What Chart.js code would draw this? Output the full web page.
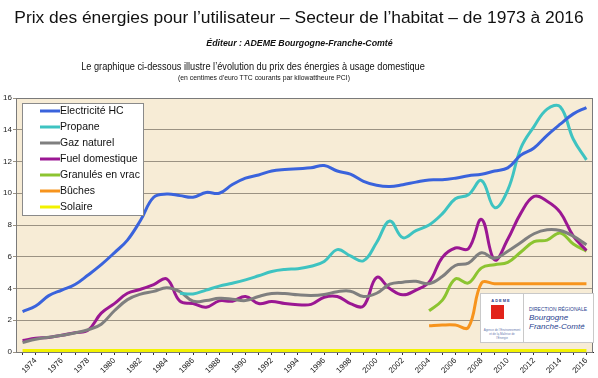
<!DOCTYPE html>
<html lang="fr">
<head>
<meta charset="utf-8">
<script src="https://cdn.jsdelivr.net/npm/chart.js@4.4.1/dist/chart.umd.min.js"></script>
<style>
  body { margin: 0; background: #fff; font-family: "Liberation Sans", Arial, sans-serif; }
  #wrap { position: relative; width: 598px; height: 378px; overflow: hidden; }
  #chart { position: absolute; left: 0; top: 0; }
  .txt { position: absolute; white-space: nowrap; color: #111; }
  #titre { left: 299px; top: 7px; font-size: 17.4px; line-height: 21px; transform: translateX(-50%); }
  #editeur { left: 299.5px; top: 37px; font-size: 8.8px; line-height: 12px; font-weight: bold; font-style: italic; transform: translateX(-50%); }
  #intro { left: 253px; top: 61px; font-size: 10px; line-height: 12px; transform: translateX(-50%) scaleX(0.92); }
  #unite { left: 263.5px; top: 73px; font-size: 8px; line-height: 10px; transform: translateX(-50%) scaleX(0.85); }
  #logo { position: absolute; left: 480px; top: 293px; width: 112px; height: 48px; background: #fff; border: 1px solid #c9c9c9; }
  #logo .ademe { position: absolute; left: 0; top: 4px; width: 40px; text-align: center; font-size: 4px; font-weight: bold; color: #2a3f8f; letter-spacing: 1px; }
  #logo .carre { position: absolute; left: 10px; top: 11px; width: 13px; height: 14px; background: #e2231a; }
  #logo .mini { position: absolute; left: 2px; top: 34px; width: 38px; text-align: center; font-size: 3px; color: #6a7ab0; line-height: 4px; }
  #logo .sep { position: absolute; left: 42px; top: 0; width: 1px; height: 48px; background: #c9c9c9; }
  #logo .dir { position: absolute; left: 48px; top: 12px; font-size: 5px; color: #2a3f8f; }
  #logo .reg { position: absolute; left: 48px; top: 19px; font-size: 8px; line-height: 9px; font-style: italic; color: #2a3f8f; }
</style>
</head>
<body>
<div id="wrap">
  <canvas id="chart" width="598" height="378"></canvas>
  <div class="txt" id="titre">Prix des énergies pour l’utilisateur – Secteur de l’habitat – de 1973 à 2016</div>
  <div class="txt" id="editeur">Éditeur : ADEME Bourgogne-Franche-Comté</div>
  <div class="txt" id="intro">Le graphique ci-dessous illustre l’évolution du prix des énergies à usage domestique</div>
  <div class="txt" id="unite">(en centimes d’euro TTC courants par kilowattheure PCI)</div>
  <div id="logo">
    <div class="ademe">ADEME</div>
    <div class="carre"></div>
    <div class="mini">Agence de l’Environnement<br>et de la Maîtrise de l’Énergie</div>
    <div class="sep"></div>
    <div class="dir">DIRECTION RÉGIONALE</div>
    <div class="reg">Bourgogne<br>Franche-Comté</div>
  </div>
</div>
<script>
// Années 1973 → 2016
const annees = ['1973','1974','1975','1976','1977','1978','1979','1980','1981','1982','1983','1984',
  '1985','1986','1987','1988','1989','1990','1991','1992','1993','1994',
  '1995','1996','1997','1998','1999','2000','2001','2002','2003','2004',
  '2005','2006','2007','2008','2009','2010','2011','2012','2013','2014','2015','2016'];

// centimes d'euro TTC / kWh PCI
const electriciteHC = [2.55,2.9,3.55,3.9,4.25,4.85,5.5,6.25,7.05,8.3,9.75,9.95,
  9.85,9.75,10.05,10.0,10.55,10.95,11.15,11.4,11.5,11.55,
  11.6,11.75,11.4,11.2,10.75,10.5,10.42,10.54,10.7,10.84,
  10.85,10.95,11.1,11.2,11.4,11.6,12.4,12.85,13.65,14.35,15.0,15.4];
const propane = [null,null,null,null,null,null,null,null,null,null,null,null,
  3.7,3.66,3.9,4.15,4.33,4.54,4.8,5.07,5.2,5.25,
  5.4,5.7,6.45,6.05,5.75,6.9,8.25,7.2,7.65,8.0,
  8.7,9.65,9.9,10.8,9.1,10.2,12.85,14.2,15.3,15.45,13.4,12.1];
const gazNaturel = [0.6,0.8,0.93,1.05,1.2,1.4,1.75,2.6,3.3,3.65,3.82,4.05,
  3.8,3.2,3.24,3.38,3.33,3.24,3.5,3.68,3.68,3.6,
  3.56,3.62,3.8,3.83,3.5,3.7,4.27,4.4,4.45,4.3,
  4.75,5.45,5.6,6.25,5.9,6.35,6.9,7.45,7.7,7.65,7.3,6.75];
const fuelDomestique = [0.72,0.86,0.92,1.05,1.22,1.38,2.45,3.05,3.7,3.95,4.25,4.6,
  3.2,3.05,2.82,3.22,3.2,3.5,3.05,3.18,3.05,2.98,
  3.0,3.45,3.5,3.05,2.9,4.7,4.0,3.6,3.9,4.4,
  5.95,6.55,6.5,8.35,5.8,7.1,8.75,9.8,9.5,8.8,7.3,6.4];
const granules = [null,null,null,null,null,null,null,null,null,null,null,null,
  null,null,null,null,null,null,null,null,null,null,
  null,null,null,null,null,null,null,null,null,2.6,
  3.25,4.6,4.35,5.3,5.5,5.65,6.3,6.95,7.05,7.5,6.8,6.35];
const buches = [null,null,null,null,null,null,null,null,null,null,null,null,
  null,null,null,null,null,null,null,null,null,null,
  null,null,null,null,null,null,null,null,null,1.65,
  1.7,1.7,1.55,4.35,4.3,4.3,4.3,4.3,4.3,4.3,4.3,4.3];
const solaire = [0.1,0.1,0.1,0.1,0.1,0.1,0.1,0.1,0.1,0.1,0.1,0.1,
  0.1,0.1,0.1,0.1,0.1,0.1,0.1,0.1,0.1,0.1,
  0.1,0.1,0.1,0.1,0.1,0.1,0.1,0.1,0.1,0.1,
  0.1,0.1,0.1,0.1,0.1,0.1,0.1,0.1,0.1,0.1,0.1,0.1];

const series = [
  { label: 'Electricité HC', data: electriciteHC, color: '#3a63dc' },
  { label: 'Propane', data: propane, color: '#3ec3c1' },
  { label: 'Gaz naturel', data: gazNaturel, color: '#7f7f7f' },
  { label: 'Fuel domestique', data: fuelDomestique, color: '#9b1793' },
  { label: 'Granulés en vrac', data: granules, color: '#8cc431' },
  { label: 'Bûches', data: buches, color: '#f7941d' },
  { label: 'Solaire', data: solaire, color: '#f2f200' },
];

// fond du graphique + cadre
const fond = {
  id: 'fond',
  beforeDraw(chart) {
    const { ctx, chartArea: a } = chart;
    ctx.save();
    ctx.fillStyle = '#f7ecd6';
    ctx.fillRect(a.left, a.top, a.right - a.left, a.bottom - a.top);
    ctx.restore();
  },
  afterDraw(chart) {
    const { ctx, chartArea: a } = chart;
    ctx.save();
    ctx.strokeStyle = '#7a7a7a';
    ctx.lineWidth = 1;
    ctx.strokeRect(a.left + 0.5, a.top + 0.5, a.right - a.left - 1, a.bottom - a.top);
    ctx.restore();
  }
};

// légende dans le graphique, en haut à gauche
const legendeBoite = {
  id: 'legendeBoite',
  afterDatasetsDraw(chart) {
    const ctx = chart.ctx;
    const x = 22, y = 103, w = 121, h = 112;
    ctx.save();
    ctx.fillStyle = '#fff';
    ctx.fillRect(x, y, w, h);
    ctx.strokeStyle = '#8a8a8a';
    ctx.lineWidth = 1;
    ctx.strokeRect(x + 0.5, y + 0.5, w, h);
    ctx.font = '10.5px "Liberation Sans", Arial, sans-serif';
    ctx.textBaseline = 'middle';
    chart.data.datasets.forEach((ds, i) => {
      const ly = 111 + i * 16;
      ctx.strokeStyle = ds.borderColor;
      ctx.lineWidth = 3;
      ctx.beginPath();
      ctx.moveTo(40, ly);
      ctx.lineTo(60, ly);
      ctx.stroke();
      ctx.fillStyle = '#111';
      ctx.fillText(ds.label, 60, ly);
    });
    ctx.restore();
  }
};

new Chart(document.getElementById('chart'), {
  type: 'line',
  data: {
    labels: annees,
    datasets: series.map(s => ({
      label: s.label,
      data: s.data,
      borderColor: s.color,
      backgroundColor: s.color,
      borderWidth: 3,
      pointRadius: 0,
      tension: 0.4,
      spanGaps: false,
      fill: false,
    }))
  },
  options: {
    responsive: false,
    animation: false,
    layout: { padding: { top: 98, right: 5, left: 0, bottom: 0 } },
    plugins: { legend: { display: false }, tooltip: { enabled: false } },
    scales: {
      x: {
        offset: true,
        afterFit(scale) { scale.height = 26; },
        grid: { drawOnChartArea: false, tickLength: 3, color: '#333' },
        border: { color: '#222' },
        ticks: {
          autoSkip: false, minRotation: 45, maxRotation: 45, padding: 1,
          color: '#222', font: { size: 8, family: '"Liberation Sans", Arial, sans-serif' },
          callback: (v, i) => (+annees[i] % 2 === 0 ? annees[i] : '')
        }
      },
      y: {
        min: 0, max: 16,
        afterFit(scale) { scale.width = 16; },
        grid: { color: '#9b9283', tickLength: 3, lineWidth: 1 },
        border: { color: '#222' },
        ticks: {
          stepSize: 2, padding: 1,
          color: '#222', font: { size: 8, family: '"Liberation Sans", Arial, sans-serif' }
        }
      }
    }
  },
  plugins: [fond, legendeBoite]
});
</script>
</body>
</html>
